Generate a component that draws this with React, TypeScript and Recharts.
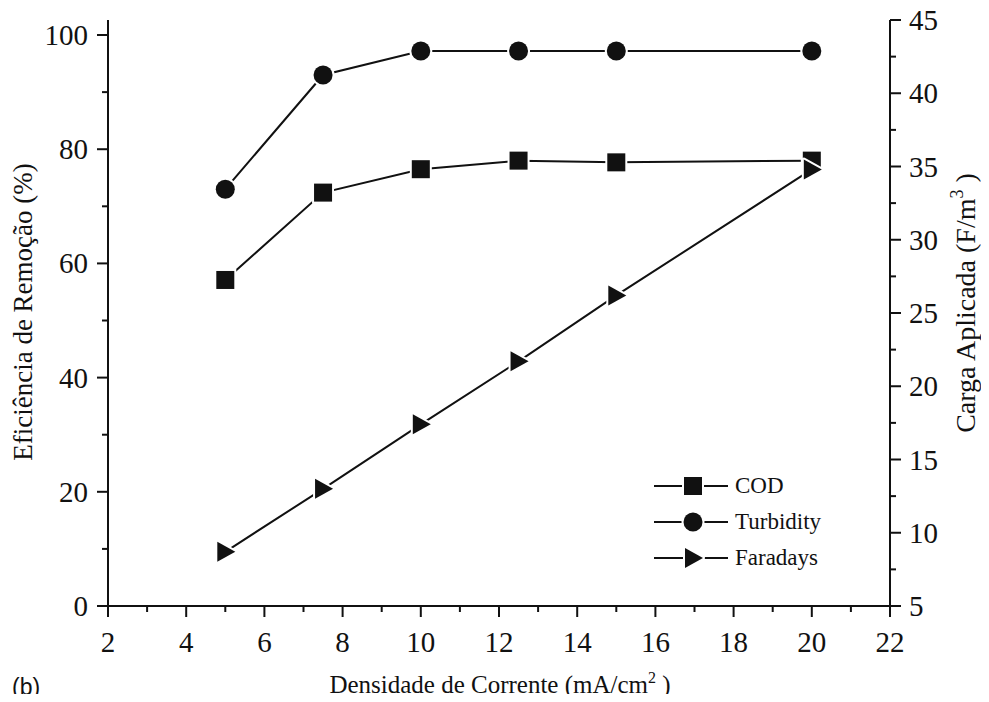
import { LineChart, Line, XAxis, YAxis } from 'recharts';

// Densidade de corrente (mA/cm²)
const densidade = [5, 7.5, 10, 12.5, 15, 20];
// Eficiência de remoção (%)
const cod = [57.1, 72.4, 76.5, 78.0, 77.7, 78.0];
const turbidity = [73.0, 93.0, 97.2, 97.2, 97.2, 97.2];
// Carga aplicada (F/m³)
const faradays = [8.7, 13.0, 17.4, 21.7, 26.2, 34.8];

const xTicks = [2, 3, 4, 5, 6, 7, 8, 9, 10, 11, 12, 13, 14, 15, 16, 17, 18, 19, 20, 21, 22];
const leftTicks = [0, 10, 20, 30, 40, 50, 60, 70, 80, 90, 100];
const rightTicks = [5, 7.5, 10, 12.5, 15, 17.5, 20, 22.5, 25, 27.5, 30, 32.5, 35, 37.5, 40, 42.5, 45];

const data = densidade.map((d, i) => ({
  densidade: d,
  cod: cod[i],
  turbidity: turbidity[i],
  faradays: faradays[i],
}));

const FONT = '"Liberation Serif", "Times New Roman", serif';
const INK = '#111';
const TICK_FONT = 29;

const XTick = ({ x, y, payload }: any) => {
  const major = payload.value % 2 === 0;
  return (
    <g>
      <line x1={x} y1={y} x2={x} y2={y + (major ? 11 : 6)} stroke={INK} strokeWidth={2} />
      {major && (
        <text x={x} y={y + 46} textAnchor="middle" fontFamily={FONT} fontSize={TICK_FONT} fill={INK}>
          {payload.value}
        </text>
      )}
    </g>
  );
};

const LeftTick = ({ x, y, payload }: any) => {
  const major = payload.value % 20 === 0;
  return (
    <g>
      <line x1={x} y1={y} x2={x - (major ? 11 : 6)} y2={y} stroke={INK} strokeWidth={2} />
      {major && (
        <text x={x - 20} y={y + 10} textAnchor="end" fontFamily={FONT} fontSize={TICK_FONT} fill={INK}>
          {payload.value}
        </text>
      )}
    </g>
  );
};

const RightTick = ({ x, y, payload }: any) => {
  const major = payload.value % 5 === 0;
  return (
    <g>
      <line x1={x} y1={y} x2={x + (major ? 11 : 6)} y2={y} stroke={INK} strokeWidth={2} />
      {major && (
        <text x={x + 19} y={y + 10} textAnchor="start" fontFamily={FONT} fontSize={TICK_FONT} fill={INK}>
          {payload.value}
        </text>
      )}
    </g>
  );
};

// marker shapes, white outline leaves a small gap where the line meets the marker
const Square = ({ cx, cy }: any) => (
  <rect x={cx - 9} y={cy - 9} width={18} height={18} fill={INK} stroke="#fff" strokeWidth={4} paintOrder="stroke" />
);
const Circle = ({ cx, cy }: any) => (
  <circle cx={cx} cy={cy} r={9.5} fill={INK} stroke="#fff" strokeWidth={4} paintOrder="stroke" />
);
const Triangle = ({ cx, cy }: any) => (
  <path
    d={`M${cx - 8},${cy - 10} L${cx + 10},${cy} L${cx - 8},${cy + 10} Z`}
    fill={INK}
    stroke="#fff"
    strokeWidth={4}
    paintOrder="stroke"
    strokeLinejoin="round"
  />
);

const legendRows = [
  { name: 'COD', Marker: Square },
  { name: 'Turbidity', Marker: Circle },
  { name: 'Faradays', Marker: Triangle },
];

export default function App() {
  return (
    <div style={{ position: 'relative', width: 973, height: 694, marginBottom: -8 }}>
      <style>{'.recharts-surface { overflow: visible; }'}</style>
      <LineChart width={973} height={694} data={data} margin={{ top: 12, right: 0, bottom: 0, left: 0 }}>
        <XAxis
          xAxisId="bottom"
          dataKey="densidade"
          type="number"
          domain={[2, 22]}
          ticks={xTicks}
          interval={0}
          height={96}
          tickSize={0}
          tickMargin={0}
          tickLine={false}
          tick={<XTick />}
          axisLine={{ stroke: INK, strokeWidth: 2 }}
          label={{
            content: () => (
              <text x={492} y={685} textAnchor="middle" fontFamily={FONT} fontSize={25} fill={INK}>
                Densidade de Corrente (mA/cm
                <tspan fontSize={16} dy={-10}>2</tspan>
                <tspan dy={10}> )</tspan>
              </text>
            ),
          }}
        />
        <XAxis
          xAxisId="top"
          orientation="top"
          dataKey="densidade"
          type="number"
          domain={[2, 22]}
          height={0}
          tick={false}
          tickLine={false}
          axisLine={{ stroke: INK, strokeWidth: 2 }}
        />
        <YAxis
          yAxisId="left"
          type="number"
          domain={[0, 102.63]}
          ticks={leftTicks}
          interval={0}
          width={100}
          tickSize={0}
          tickMargin={0}
          tickLine={false}
          tick={<LeftTick />}
          axisLine={{ stroke: INK, strokeWidth: 2 }}
          label={{
            content: () => (
              <text
                x={15}
                y={304}
                transform="rotate(-90 15 304)"
                textAnchor="middle"
                dominantBaseline="central"
                fontFamily={FONT}
                fontSize={27}
                fill={INK}
              >
                Eficiência de Remoção (%)
              </text>
            ),
          }}
        />
        <YAxis
          yAxisId="right"
          orientation="right"
          type="number"
          domain={[5, 45]}
          ticks={rightTicks}
          interval={0}
          width={91}
          tickSize={0}
          tickMargin={0}
          tickLine={false}
          tick={<RightTick />}
          axisLine={{ stroke: INK, strokeWidth: 2 }}
          label={{
            content: () => (
              <text
                x={967}
                y={295}
                transform="rotate(-90 967 295)"
                textAnchor="middle"
                fontFamily={FONT}
                fontSize={28}
                fill={INK}
              >
                Carga Aplicada (F/m
                <tspan fontSize={18} dy={-12}>3</tspan>
                <tspan dy={12}> )</tspan>
              </text>
            ),
          }}
        />
        <Line
          xAxisId="bottom"
          yAxisId="left"
          dataKey="turbidity"
          stroke={INK}
          strokeWidth={2}
          dot={<Circle />}
          activeDot={false}
          isAnimationActive={false}
        />
        <Line
          xAxisId="bottom"
          yAxisId="left"
          dataKey="cod"
          stroke={INK}
          strokeWidth={2}
          dot={<Square />}
          activeDot={false}
          isAnimationActive={false}
        />
        <Line
          xAxisId="bottom"
          yAxisId="right"
          dataKey="faradays"
          stroke={INK}
          strokeWidth={2}
          dot={<Triangle />}
          activeDot={false}
          isAnimationActive={false}
        />
      </LineChart>

      {/* legend */}
      <svg width={240} height={110} style={{ position: 'absolute', left: 640, top: 460 }}>
        {legendRows.map(({ name, Marker }, i) => {
          const y = 18 + i * 36;
          return (
            <g key={name}>
              <line x1={6} y1={y} x2={80} y2={y} stroke={INK} strokeWidth={2} />
              <Marker cx={45} cy={y} />
              <text x={87} y={y + 7} fontFamily={FONT} fontSize={23} fill={INK}>
                {name}
              </text>
            </g>
          );
        })}
      </svg>

      <div
        style={{
          position: 'absolute',
          left: 4,
          top: 668,
          fontFamily: '"Liberation Sans", Arial, sans-serif',
          fontSize: 23,
          color: INK,
          lineHeight: 1,
        }}
      >
        (b)
      </div>
    </div>
  );
}
